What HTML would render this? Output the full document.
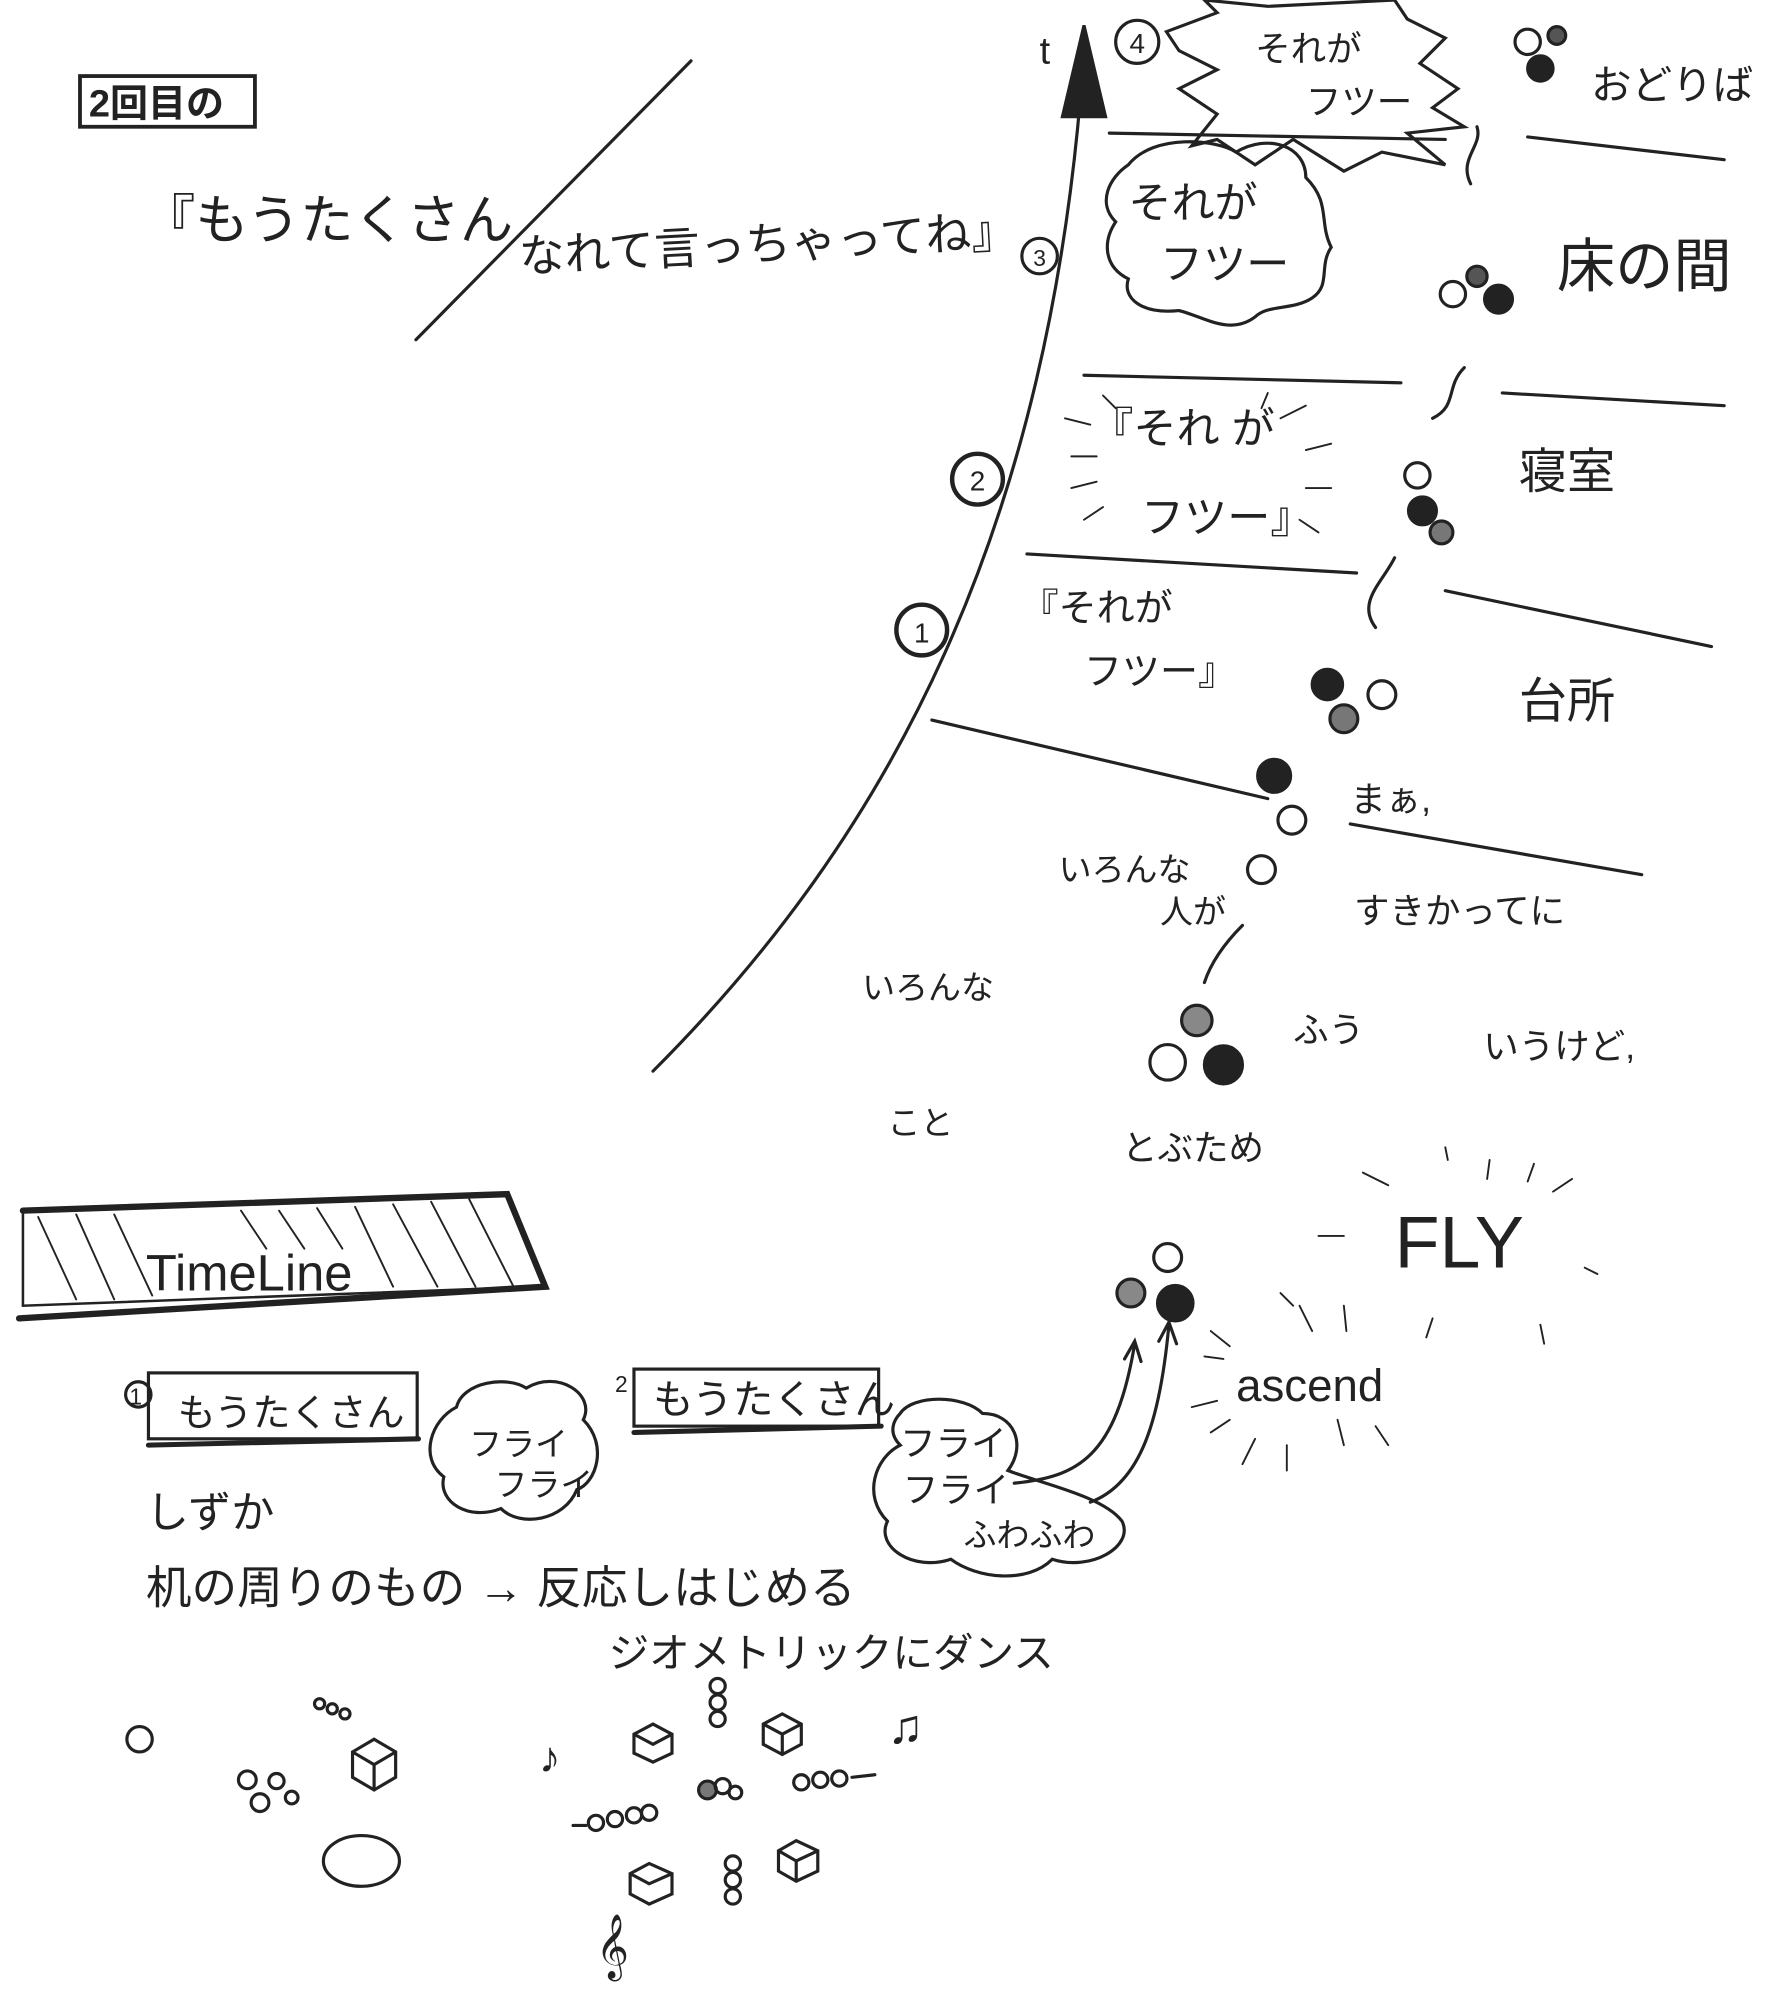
<!DOCTYPE html>
<html><head><meta charset="utf-8">
<style>
html,body{margin:0;padding:0;background:#fff;}
svg{display:block;}
text{font-family:"Liberation Sans","Noto Sans CJK JP",sans-serif;fill:#222;}
</style></head>
<body>
<svg width="1775" height="2008" viewBox="0 0 1400 1584" xmlns="http://www.w3.org/2000/svg">
<g fill="none" stroke="#222" stroke-width="2.5" stroke-linecap="round">
<rect x="63" y="60" width="138" height="40" stroke-width="3"/>
<line x1="328" y1="268" x2="545" y2="48" stroke-width="2.5"/>
<path d="M515,845 C700,660 830,420 855,40" stroke-width="2.5"/>
<polygon points="855,20 838,92 872,92" fill="#222"/>
<path d="M875,105 L1140,110"/><path d="M1205,108 L1360,126"/>
<path d="M855,296 L1105,302"/><path d="M1185,310 L1360,320"/>
<path d="M810,437 L1070,452"/><path d="M1140,466 L1350,510"/>
<path d="M735,568 L1000,630"/>
<path d="M1065,650 L1295,690"/>
<path d="M920,25 L960,10 L950,0 L1000,5 L1100,0 L1110,15 L1140,30 L1120,50 L1150,70 L1130,85 L1155,100 L1110,105 L1140,130 L1090,120 L1060,135 L1020,110 L990,130 L960,110 L940,115 L960,90 L930,70 L960,55 L930,40 Z"/>
<path d="M890,130 C910,105 960,110 975,120 C1000,105 1030,115 1030,140 C1050,160 1040,175 1050,195 C1040,210 1050,225 1035,235 C1020,245 1000,240 990,250 C970,265 950,250 930,245 C900,248 885,235 890,220 C870,210 870,190 880,175 C865,160 875,140 890,130 Z"/>
<g stroke-width="1.5">
<line x1="840" y1="330" x2="860" y2="335"/><line x1="845" y1="360" x2="865" y2="360"/><line x1="845" y1="385" x2="865" y2="380"/><line x1="855" y1="410" x2="870" y2="400"/>
<line x1="1010" y1="330" x2="1030" y2="320"/><line x1="1030" y1="355" x2="1050" y2="350"/><line x1="1030" y1="385" x2="1050" y2="385"/><line x1="1025" y1="410" x2="1040" y2="420"/>
<line x1="870" y1="312" x2="880" y2="322"/><line x1="1000" y1="310" x2="995" y2="322"/>
</g>
<circle cx="897" cy="33" r="17"/><circle cx="820" cy="202" r="14"/><circle cx="771" cy="378" r="20" stroke-width="3.5"/><circle cx="727" cy="497" r="20" stroke-width="3.5"/>
<path d="M1160,145 C1150,125 1170,115 1165,100"/><path d="M1130,330 C1150,320 1140,305 1155,290"/><path d="M1085,495 C1070,475 1090,460 1100,440"/>
<circle cx="1205" cy="33" r="10"/><circle cx="1215" cy="54" r="10" fill="#222"/><circle cx="1228" cy="28" r="7" fill="#555"/>
<circle cx="1146" cy="232" r="10"/><circle cx="1165" cy="218" r="8" fill="#555"/><circle cx="1182" cy="236" r="11" fill="#222"/>
<circle cx="1118" cy="375" r="10"/><circle cx="1122" cy="403" r="11" fill="#222"/><circle cx="1137" cy="420" r="9" fill="#777"/>
<circle cx="1047" cy="540" r="12" fill="#222"/><circle cx="1060" cy="567" r="11" fill="#777"/><circle cx="1090" cy="548" r="11"/>
<circle cx="1005" cy="612" r="13" fill="#222"/><circle cx="1019" cy="647" r="11"/><circle cx="995" cy="686" r="11"/>
<path d="M950,775 C955,760 965,745 980,730"/>
<circle cx="944" cy="805" r="12" fill="#888"/><circle cx="921" cy="838" r="14"/><circle cx="965" cy="840" r="15" fill="#222"/>
<circle cx="921" cy="992" r="11"/><circle cx="892" cy="1020" r="11" fill="#888"/><circle cx="927" cy="1028" r="14" fill="#222"/>
<g stroke-width="1.5">
<line x1="1075" y1="925" x2="1095" y2="935"/><line x1="1140" y1="905" x2="1142" y2="915"/><line x1="1175" y1="915" x2="1173" y2="930"/><line x1="1210" y1="918" x2="1205" y2="932"/><line x1="1240" y1="930" x2="1225" y2="940"/>
<line x1="1040" y1="975" x2="1060" y2="975"/><line x1="1250" y1="1000" x2="1260" y2="1005"/><line x1="1010" y1="1020" x2="1020" y2="1030"/><line x1="1025" y1="1030" x2="1035" y2="1050"/>
<line x1="1060" y1="1030" x2="1062" y2="1050"/><line x1="1130" y1="1040" x2="1125" y2="1055"/><line x1="1215" y1="1045" x2="1218" y2="1060"/>
<line x1="955" y1="1050" x2="970" y2="1062"/><line x1="950" y1="1070" x2="965" y2="1072"/>
<line x1="940" y1="1110" x2="960" y2="1105"/><line x1="955" y1="1130" x2="970" y2="1120"/><line x1="980" y1="1155" x2="990" y2="1135"/><line x1="1015" y1="1160" x2="1015" y2="1140"/><line x1="1060" y1="1140" x2="1055" y2="1120"/><line x1="1095" y1="1140" x2="1085" y2="1125"/>
</g>
<path d="M18,955 L400,942 L430,1015 L15,1040" stroke-width="5"/>
<path d="M18,955 L18,1030 L425,1015" stroke-width="2"/>
<g stroke-width="1.5">
<line x1="30" y1="960" x2="60" y2="1025"/><line x1="60" y1="958" x2="90" y2="1025"/><line x1="90" y1="958" x2="120" y2="1022"/><line x1="190" y1="955" x2="210" y2="985"/><line x1="220" y1="955" x2="240" y2="985"/><line x1="250" y1="953" x2="270" y2="985"/><line x1="280" y1="952" x2="310" y2="1015"/><line x1="310" y1="950" x2="345" y2="1015"/><line x1="340" y1="948" x2="375" y2="1015"/><line x1="370" y1="946" x2="405" y2="1015"/>
</g>
<rect x="117" y="1083" width="212" height="52"/><line x1="117" y1="1140" x2="330" y2="1135" stroke-width="4"/>
<circle cx="109" cy="1100" r="10"/>
<rect x="500" y="1080" width="193" height="45"/><line x1="500" y1="1130" x2="695" y2="1125" stroke-width="4"/>
<path d="M360,1110 C365,1090 400,1085 415,1095 C440,1080 470,1100 460,1120 C480,1140 470,1170 455,1175 C445,1200 410,1205 395,1190 C370,1200 345,1185 350,1165 C330,1150 340,1120 360,1110 Z"/>
<path d="M710,1115 C720,1100 760,1100 775,1115 C800,1115 810,1140 795,1160 C820,1170 870,1180 885,1200 C895,1220 860,1240 830,1230 C810,1250 770,1245 750,1230 C720,1240 690,1220 700,1200 C680,1180 690,1150 710,1140 C700,1130 705,1120 710,1115 Z"/>
<path d="M800,1170 C850,1165 880,1150 895,1060"/><path d="M860,1185 C900,1170 915,1120 922,1045"/>
<path d="M887,1072 L895,1058 L900,1074"/><path d="M914,1058 L922,1043 L928,1060"/>
<ellipse cx="285" cy="1468" rx="30" ry="20"/>
<circle cx="110" cy="1372" r="10"/><circle cx="195" cy="1404" r="7"/><circle cx="218" cy="1405" r="6"/><circle cx="205" cy="1422" r="7"/><circle cx="230" cy="1418" r="5"/>
<path d="M278,1382 L295,1372 L312,1382 L312,1402 L295,1412 L278,1402 Z M278,1382 L295,1392 L312,1382 M295,1392 L295,1412"/>
<path d="M500,1368 L515,1360 L530,1368 L530,1383 L515,1390 L500,1383 Z M500,1368 L515,1376 L530,1368"/>
<path d="M602,1360 L617,1352 L632,1360 L632,1376 L617,1384 L602,1376 Z M602,1360 L617,1368 L632,1360 M617,1368 L617,1384"/>
<path d="M497,1478 L512,1470 L530,1478 L530,1494 L512,1502 L497,1494 Z M497,1478 L512,1486 L530,1478"/>
<path d="M614,1460 L628,1452 L645,1460 L645,1476 L628,1484 L614,1476 Z M614,1460 L628,1468 L645,1460 M628,1468 L628,1484"/>
<circle cx="566" cy="1330" r="6"/><circle cx="566" cy="1343" r="6"/><circle cx="566" cy="1356" r="6"/>
<circle cx="578" cy="1470" r="6"/><circle cx="578" cy="1483" r="6"/><circle cx="578" cy="1496" r="6"/>
<circle cx="470" cy="1438" r="6"/><circle cx="485" cy="1435" r="6"/><circle cx="500" cy="1432" r="6"/><circle cx="512" cy="1430" r="6"/><line x1="452" y1="1440" x2="462" y2="1440"/>
<circle cx="632" cy="1406" r="6"/><circle cx="647" cy="1404" r="6"/><circle cx="662" cy="1403" r="6"/><line x1="672" y1="1402" x2="690" y2="1400"/>
<circle cx="558" cy="1412" r="7" fill="#777"/><circle cx="570" cy="1409" r="6"/><circle cx="580" cy="1414" r="5"/>
<circle cx="252" cy="1344" r="4"/><circle cx="262" cy="1348" r="4"/><circle cx="272" cy="1352" r="4"/>
</g>
<text x="70" y="92" font-size="30" font-weight="bold">2回目の</text>
<text x="112" y="188" font-size="42">『もうたくさん</text>
<text x="410" y="215" font-size="36" transform="rotate(-3 410 215)">なれて言っちゃってね』</text>
<text x="820" y="50" font-size="30">t</text>
<g font-size="22" text-anchor="middle">
<text x="897" y="42">4</text><text x="820" y="210" font-size="18">3</text><text x="771" y="387">2</text><text x="727" y="507">1</text>
</g>
<text x="990" y="48" font-size="28">それが</text><text x="1030" y="90" font-size="28">フツー</text>
<text x="890" y="172" font-size="34">それが</text><text x="915" y="220" font-size="34">フツー</text>
<text x="860" y="350" font-size="34">『それ が</text><text x="900" y="420" font-size="34">フツー』</text>
<text x="805" y="490" font-size="30">『それが</text><text x="855" y="540" font-size="30">フツー』</text>
<text x="1255" y="78" font-size="32">おどりば</text>
<text x="1228" y="226" font-size="46">床の間</text>
<text x="1198" y="385" font-size="38">寝室</text>
<text x="1198" y="566" font-size="38">台所</text>
<text x="1065" y="640" font-size="28">まぁ,</text>
<text x="835" y="695" font-size="26">いろんな</text><text x="915" y="728" font-size="26">人が</text>
<text x="1068" y="728" font-size="28">すきかってに</text>
<text x="680" y="788" font-size="26">いろんな</text>
<text x="1020" y="822" font-size="28">ふう</text>
<text x="1170" y="835" font-size="28">いうけど,</text>
<text x="700" y="895" font-size="26">こと</text>
<text x="885" y="915" font-size="28">とぶため</text>
<text x="1100" y="1000" font-size="58">FLY</text>
<text x="975" y="1105" font-size="36">ascend</text>
<text x="115" y="1018" font-size="40">TimeLine</text>
<text x="102" y="1108" font-size="18">1</text>
<text x="140" y="1125" font-size="30">もうたくさん</text>
<text x="485" y="1098" font-size="18">2</text>
<text x="515" y="1115" font-size="32">もうたくさん</text>
<text x="370" y="1148" font-size="26">フライ</text><text x="390" y="1180" font-size="26">フライ</text>
<text x="710" y="1148" font-size="28">フライ</text><text x="712" y="1185" font-size="28">フライ</text><text x="760" y="1220" font-size="26">ふわふわ</text>
<text x="115" y="1205" font-size="34">しずか</text>
<text x="115" y="1265" font-size="36">机の周りのもの → 反応しはじめる</text>
<text x="480" y="1315" font-size="32">ジオメトリックにダンス</text>
<text x="425" y="1398" font-size="34">♪</text>
<text x="700" y="1375" font-size="38">♫</text>
<text x="470" y="1550" font-size="44">𝄞</text>
</svg>
</body></html>
